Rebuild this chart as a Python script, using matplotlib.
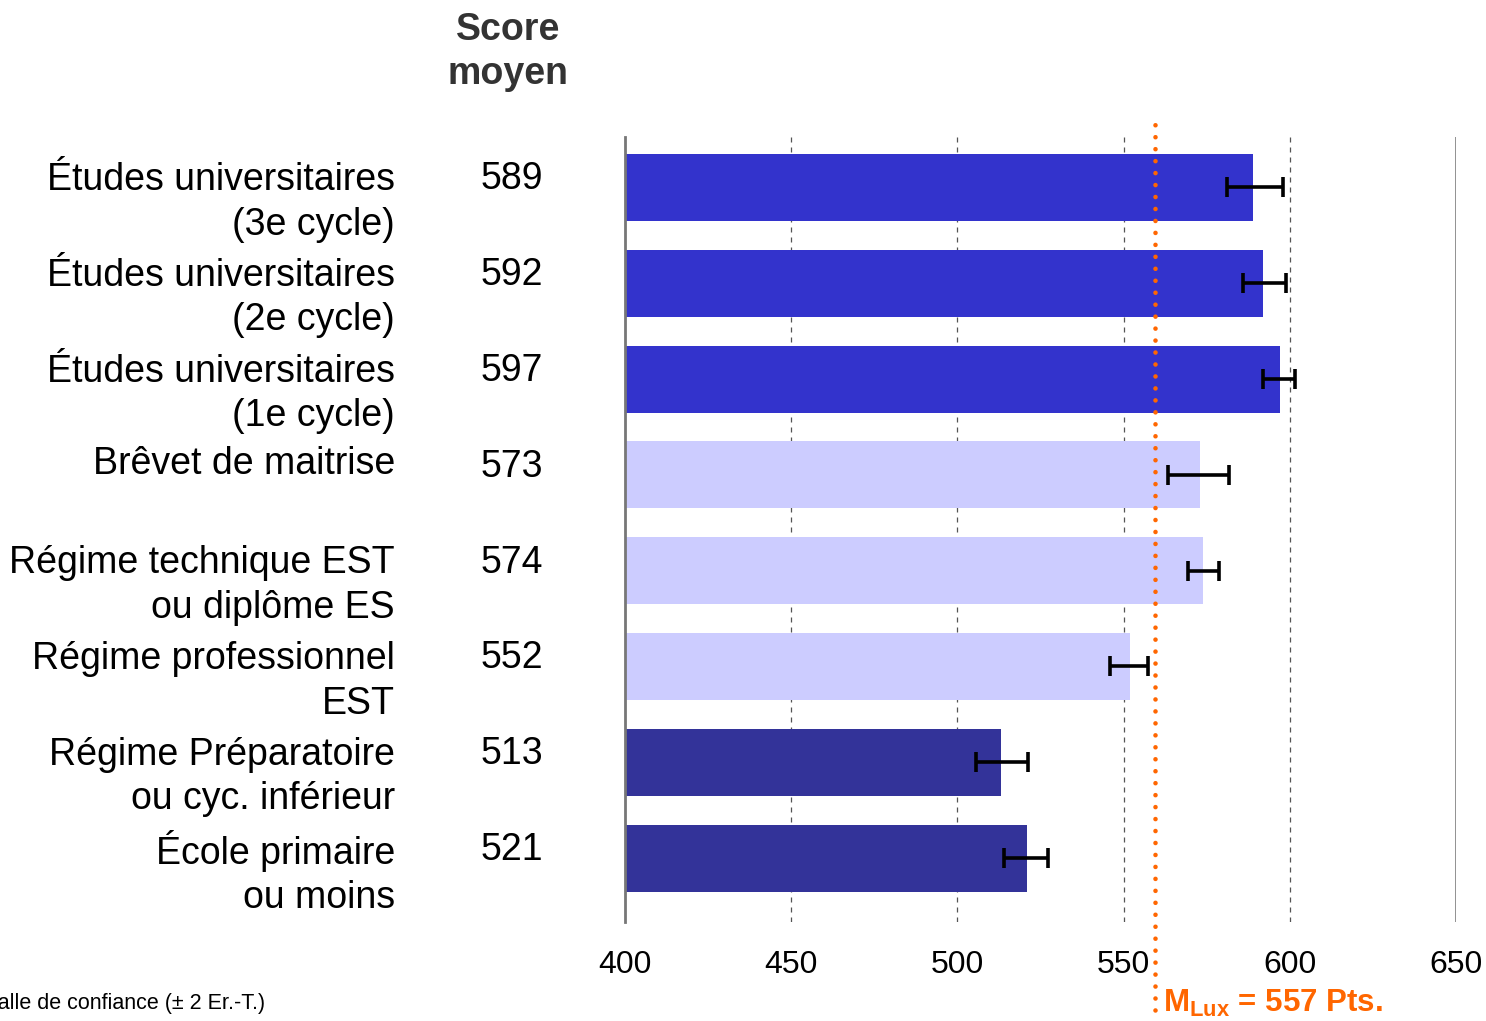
import matplotlib.pyplot as plt
import matplotlib.transforms as mtransforms
import numpy as np

plt.rcParams['font.family'] = ['Liberation Sans', 'DejaVu Sans']
plt.rcParams['mathtext.fontset'] = 'custom'
plt.rcParams['mathtext.rm'] = 'Liberation Sans'
plt.rcParams['mathtext.bf'] = 'Liberation Sans:bold'

# données
categories = ["Études universitaires\n(3e cycle)",
              "Études universitaires\n(2e cycle)",
              "Études universitaires\n(1e cycle)",
              "Brêvet de maitrise",
              "Régime technique EST\nou diplôme ES",
              "Régime professionnel\nEST",
              "Régime Préparatoire\nou cyc. inférieur",
              "École primaire\nou moins"]
scores = [589, 592, 597, 573, 574, 552, 513, 521]
ci_low = [581.1, 585.9, 591.9, 563.4, 569.4, 545.9, 505.6, 514.0]
ci_high = [598.0, 598.9, 601.6, 581.7, 578.7, 557.3, 521.2, 527.3]
bar_colors = ['#3333CC', '#3333CC', '#3333CC', '#CCCCFF', '#CCCCFF', '#CCCCFF', '#333399', '#333399']
mean_lux = 557
mean_line_x = 559.4  # position du trait pointillé telle que dessinée
xticks = [400, 450, 500, 550, 600, 650]

scores = np.array(scores)
err = [scores - np.array(ci_low), np.array(ci_high) - scores]
y = np.arange(len(categories))

fig = plt.figure(figsize=(14.86, 10.21), dpi=100)
ax = fig.add_axes([625/1486, 1-922/1021, (1456-625)/1486, (922-137)/1021])

ax.barh(y, scores, height=0.7, color=bar_colors, zorder=2)
ax.errorbar(scores, y, xerr=err, fmt='none', ecolor='black', elinewidth=2.6,
            capsize=7, capthick=2.6, zorder=4)

ax.set_xlim(400, 650)
ax.set_ylim(len(categories) - 1 + 0.667, -0.527)

for x in [450, 500, 550, 600]:
    ax.axvline(x, color='#555555', linestyle=(0, (4, 4)), linewidth=0.9, zorder=1)
ax.axvline(650, color='#888888', linewidth=2, zorder=1)

for s in ['top', 'right', 'bottom']:
    ax.spines[s].set_visible(False)
ax.spines['left'].set_color('#777777')
ax.spines['left'].set_linewidth(2)
ax.set_yticks([])
ax.set_xticks(xticks)
ax.set_xticklabels([str(t) for t in xticks])
ax.tick_params(axis='x', length=0, pad=20, labelsize=23)

# ligne moyenne Luxembourg
ax.axvline(mean_line_x, ymin=-0.112, ymax=1.03, color='#FF6600', linewidth=3.3,
           linestyle=(0, (0.01, 2.6)), dash_capstyle='round', clip_on=False, zorder=5)

# étiquettes de gauche et valeurs
trans_lab = mtransforms.blended_transform_factory(fig.transFigure, ax.transData)
for i, (lab, sc) in enumerate(zip(categories, scores)):
    if '\n' in lab:
        yy = i + 0.155
    else:
        yy = i - 0.115
    fig.text(395/1486, yy, lab, transform=trans_lab, ha='right', va='center',
             fontsize=27, linespacing=1.3, multialignment='right')
    fig.text(481/1486, i - 0.085, str(sc), transform=trans_lab, ha='left',
             va='center', fontsize=27)

fig.text(508/1486, 1-52/1021, "Score\nmoyen", ha='center', va='center',
         fontsize=27, fontweight='bold', color='#333333', linespacing=1.3)

fig.text(265/1486, 1-1003/1021, "Intervalle de confiance (± 2 Er.-T.)",
         ha='right', va='center', fontsize=15.5)

fig.text(1163/1486, 1-1003/1021, r"M$_{\mathbf{Lux}}$ = " + str(mean_lux) + " Pts.",
         ha='left', va='center', fontsize=22.5, fontweight='bold', color='#FF6600')

fig.savefig('out.png', dpi=100)
